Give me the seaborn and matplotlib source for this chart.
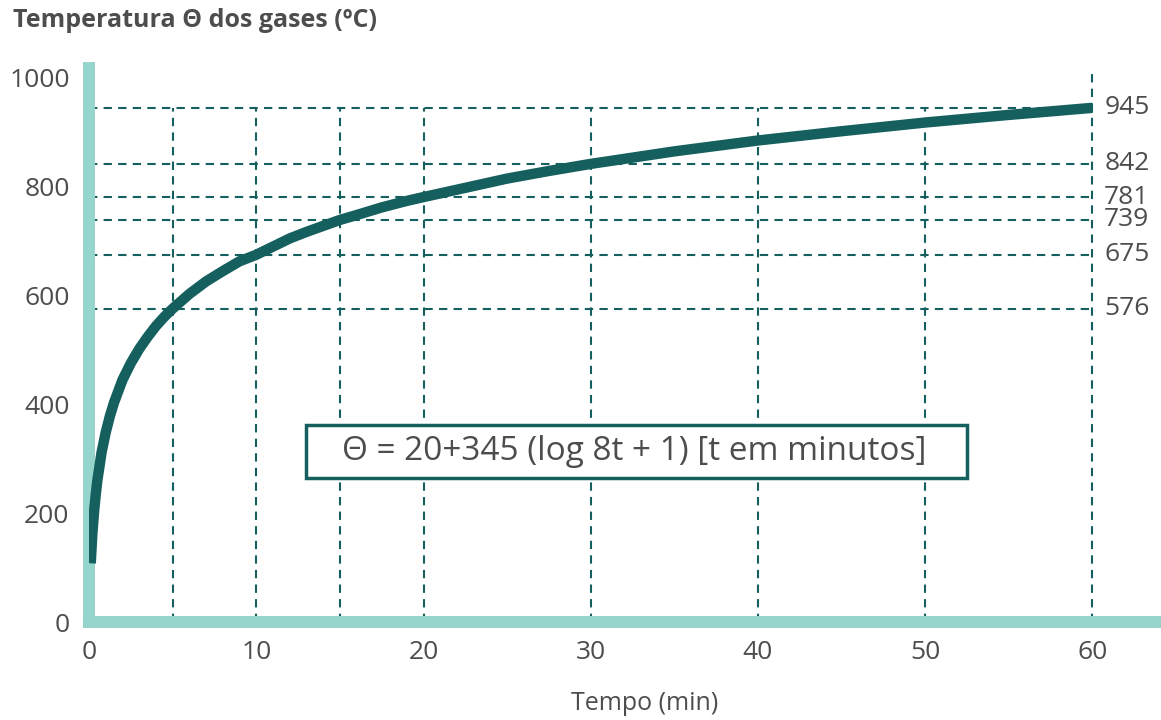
import matplotlib
matplotlib.use("Agg")
import pandas as pd
import seaborn as sns
import matplotlib.pyplot as plt
from matplotlib.patches import Rectangle

sns.set_style("white")
plt.rcParams['font.family'] = ['Open Sans', 'DejaVu Sans']

# curve (t in min, temperature in C)
tempo = [0.1, 0.2, 0.3, 0.4, 0.5, 0.75, 1, 1.25, 1.5, 2, 2.5, 3, 3.5, 4, 4.5, 5,
         6, 7, 8, 9, 10, 11, 12, 13, 14, 15, 16, 17.5, 19, 20, 22.5, 25, 27.5,
         30, 35, 40, 45, 50, 55, 60]
temp = [108, 163, 203, 234, 261, 312, 349, 379, 404, 445, 476, 502, 524, 544,
        561, 576, 603, 626, 645, 663, 675, 690, 705, 717, 728, 739, 748, 762,
        774, 781, 798, 815, 829, 842, 865, 885, 902, 918, 932, 945]

# marked points
marc_t = [5, 10, 15, 20, 30, 60]
marc_v = [576, 675, 739, 781, 842, 945]
xticks = [0, 10, 20, 30, 40, 50, 60]
yticks = [0, 200, 400, 600, 800, 1000]
vgrid = [5, 10, 15, 20, 30, 40, 50]

teal = "#155f5f"
light = "#96d5cc"
grey = "#4d4d4d"
dash = (0, (4, 3))

df = pd.DataFrame({"t": tempo, "theta": temp})

fig = plt.figure(figsize=(11.61, 7.2), dpi=100)
ax = fig.add_axes([0.0767, 0.136, 0.9233, 0.7694])

# grid lines
for v in marc_v:
    ax.plot([0, 60], [v, v], color=teal, lw=1.5, ls=dash, zorder=1)
for x in vgrid:
    ax.plot([x, x], [0, 945], color=teal, lw=1.5, ls=dash, zorder=1)
ax.plot([60, 60], [0, 1015], color=teal, lw=1.5, ls=dash, zorder=1)

sns.lineplot(data=df, x="t", y="theta", color=teal, lw=7.5, ax=ax, zorder=3,
             solid_capstyle="butt")

for v in marc_v:
    ax.text(60.7, v, str(v), color=grey, fontsize=19, va="center", ha="left")

# formula box
ax.add_patch(Rectangle((13.0, 265), 39.5, 97, fc="white", ec=teal, lw=2.5,
                       zorder=4))
ax.text(32.6, 313, "Θ = 20+345 (log 8t + 1) [t em minutos]", fontsize=24,
        color=grey, ha="center", va="center", zorder=5)

ax.set_xlim(0, 64.1)
ax.set_ylim(0, 1018)
ax.set_xticks(xticks)
ax.set_yticks(yticks)
ax.tick_params(axis="both", length=0, labelsize=19, colors=grey)
ax.tick_params(axis="y", pad=14)
ax.tick_params(axis="x", pad=13)

for s in ["top", "right"]:
    ax.spines[s].set_visible(False)
for s in ["left", "bottom"]:
    ax.spines[s].set_color(light)
    ax.spines[s].set_linewidth(8.6)
    ax.spines[s].set_zorder(2)

ax.set_xlabel("Tempo (min)", fontsize=18, color=grey)
ax.set_ylabel("")
ax.xaxis.set_label_coords((645 - 89) / (1161 - 89), -0.125)

fig.text(0.011, 0.972, "Temperatura Θ dos gases (ºC)", fontsize=18,
         fontweight="bold", color=grey, ha="left", va="center")

fig.savefig("out.png", dpi=100)
